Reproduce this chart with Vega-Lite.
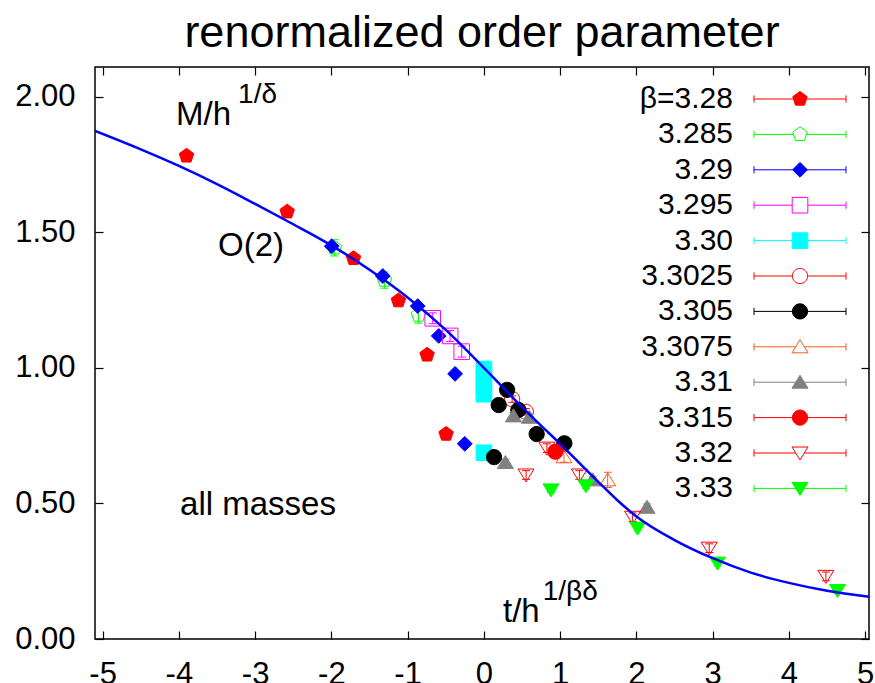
{
  "$schema": "https://vega.github.io/schema/vega-lite/v6.json",
  "width": 774,
  "height": 572,
  "autosize": {"type": "none"},
  "padding": {"left": 95, "top": 67, "right": 6, "bottom": 44},
  "background": "white",
  "title": {
    "text": "renormalized order parameter",
    "font": "Liberation Sans",
    "fontSize": 45,
    "fontWeight": "normal",
    "color": "black",
    "anchor": "middle",
    "baseline": "alphabetic",
    "offset": -26
  },
  "datasets": {
    "points": [
      {"s": "β=3.28", "x": -3.90, "y": 1.782, "lo": 1.774, "hi": 1.790},
      {"s": "β=3.28", "x": -2.58, "y": 1.576, "lo": 1.568, "hi": 1.584},
      {"s": "β=3.28", "x": -1.71, "y": 1.404, "lo": 1.396, "hi": 1.412},
      {"s": "β=3.28", "x": -1.121, "y": 1.248, "lo": 1.240, "hi": 1.256},
      {"s": "β=3.28", "x": -0.745, "y": 1.048, "lo": 1.040, "hi": 1.056},
      {"s": "β=3.28", "x": -0.496, "y": 0.756, "lo": 0.748, "hi": 0.764},
      {"s": "3.285", "x": -1.96, "y": 1.443, "lo": 1.413, "hi": 1.473},
      {"s": "3.285", "x": -1.304, "y": 1.324, "lo": 1.294, "hi": 1.354},
      {"s": "3.285", "x": -0.858, "y": 1.195, "lo": 1.165, "hi": 1.225},
      {"s": "3.29", "x": -1.995, "y": 1.449, "lo": 1.443, "hi": 1.455},
      {"s": "3.29", "x": -1.326, "y": 1.339, "lo": 1.333, "hi": 1.345},
      {"s": "3.29", "x": -0.868, "y": 1.228, "lo": 1.222, "hi": 1.234},
      {"s": "3.29", "x": -0.592, "y": 1.118, "lo": 1.112, "hi": 1.124},
      {"s": "3.29", "x": -0.378, "y": 0.978, "lo": 0.972, "hi": 0.984},
      {"s": "3.29", "x": -0.251, "y": 0.720, "lo": 0.714, "hi": 0.726},
      {"s": "3.295", "x": -0.671, "y": 1.183, "lo": 1.163, "hi": 1.203},
      {"s": "3.295", "x": -0.443, "y": 1.118, "lo": 1.098, "hi": 1.138},
      {"s": "3.295", "x": -0.291, "y": 1.060, "lo": 1.040, "hi": 1.080},
      {"s": "3.30", "x": 0, "y": 0.996, "lo": 0.988, "hi": 1.004},
      {"s": "3.30", "x": 0, "y": 0.965, "lo": 0.957, "hi": 0.973},
      {"s": "3.30", "x": 0, "y": 0.934, "lo": 0.926, "hi": 0.942},
      {"s": "3.30", "x": 0, "y": 0.903, "lo": 0.895, "hi": 0.911},
      {"s": "3.30", "x": 0, "y": 0.687, "lo": 0.679, "hi": 0.695},
      {"s": "3.3025", "x": 0.37, "y": 0.885, "lo": 0.873, "hi": 0.897},
      {"s": "3.3025", "x": 0.55, "y": 0.838, "lo": 0.826, "hi": 0.850},
      {"s": "3.305", "x": 0.304, "y": 0.919, "lo": 0.911, "hi": 0.927},
      {"s": "3.305", "x": 0.194, "y": 0.863, "lo": 0.855, "hi": 0.871},
      {"s": "3.305", "x": 0.452, "y": 0.845, "lo": 0.837, "hi": 0.853},
      {"s": "3.305", "x": 0.692, "y": 0.756, "lo": 0.748, "hi": 0.764},
      {"s": "3.305", "x": 1.055, "y": 0.722, "lo": 0.714, "hi": 0.730},
      {"s": "3.305", "x": 0.133, "y": 0.671, "lo": 0.663, "hi": 0.679},
      {"s": "3.3075", "x": 1.05, "y": 0.672, "lo": 0.652, "hi": 0.692},
      {"s": "3.3075", "x": 1.623, "y": 0.587, "lo": 0.559, "hi": 0.615},
      {"s": "3.31", "x": 0.387, "y": 0.823, "lo": 0.811, "hi": 0.835},
      {"s": "3.31", "x": 0.596, "y": 0.818, "lo": 0.806, "hi": 0.830},
      {"s": "3.31", "x": 0.282, "y": 0.651, "lo": 0.639, "hi": 0.663},
      {"s": "3.31", "x": 1.426, "y": 0.587, "lo": 0.575, "hi": 0.599},
      {"s": "3.31", "x": 2.139, "y": 0.486, "lo": 0.474, "hi": 0.498},
      {"s": "3.315", "x": 0.937, "y": 0.691, "lo": 0.683, "hi": 0.699},
      {"s": "3.32", "x": 0.826, "y": 0.704, "lo": 0.688, "hi": 0.720},
      {"s": "3.32", "x": 0.553, "y": 0.605, "lo": 0.589, "hi": 0.621},
      {"s": "3.32", "x": 1.252, "y": 0.605, "lo": 0.589, "hi": 0.621},
      {"s": "3.32", "x": 1.95, "y": 0.449, "lo": 0.433, "hi": 0.465},
      {"s": "3.32", "x": 2.955, "y": 0.335, "lo": 0.319, "hi": 0.351},
      {"s": "3.32", "x": 4.485, "y": 0.231, "lo": 0.215, "hi": 0.247},
      {"s": "3.33", "x": 0.88, "y": 0.550, "lo": 0.540, "hi": 0.560},
      {"s": "3.33", "x": 1.339, "y": 0.565, "lo": 0.555, "hi": 0.575},
      {"s": "3.33", "x": 2.016, "y": 0.409, "lo": 0.399, "hi": 0.419},
      {"s": "3.33", "x": 3.064, "y": 0.280, "lo": 0.270, "hi": 0.290},
      {"s": "3.33", "x": 4.637, "y": 0.179, "lo": 0.169, "hi": 0.189}
    ],
    "o2curve": [
      {"x": -5.1, "y": 1.874},
      {"x": -4.5, "y": 1.806},
      {"x": -4.0, "y": 1.745},
      {"x": -3.5, "y": 1.678},
      {"x": -3.0, "y": 1.605},
      {"x": -2.5, "y": 1.530},
      {"x": -2.0, "y": 1.452},
      {"x": -1.5, "y": 1.362},
      {"x": -1.0, "y": 1.260},
      {"x": -0.5, "y": 1.140},
      {"x": 0.0, "y": 1.000},
      {"x": 0.25, "y": 0.928},
      {"x": 0.5, "y": 0.855},
      {"x": 0.75, "y": 0.787},
      {"x": 1.0, "y": 0.720},
      {"x": 1.25, "y": 0.650},
      {"x": 1.5, "y": 0.580},
      {"x": 1.75, "y": 0.512},
      {"x": 2.0, "y": 0.452},
      {"x": 2.5, "y": 0.365},
      {"x": 3.0, "y": 0.298},
      {"x": 3.5, "y": 0.245},
      {"x": 4.0, "y": 0.207},
      {"x": 4.5, "y": 0.178},
      {"x": 5.05, "y": 0.156}
    ],
    "notes": [
      {"t": "M/h", "x": -4.037, "y": 1.896},
      {"t": "O(2)", "x": -3.487, "y": 1.413},
      {"t": "all masses", "x": -3.985, "y": 0.457},
      {"t": "t/h", "x": 0.25, "y": 0.064}
    ],
    "sups": [
      {"t": "1/δ", "x": -3.224, "y": 1.976},
      {"t": "1/βδ", "x": 0.771, "y": 0.144}
    ]
  },
  "layer": [
    {
      "data": {"name": "points"},
      "mark": {"type": "rule", "strokeWidth": 1, "opacity": 1},
      "encoding": {
        "x": {"field": "x", "type": "quantitative", "axis": null},
        "y": {"field": "lo", "type": "quantitative", "axis": null},
        "y2": {"field": "hi"},
        "color": {
          "field": "s", "type": "nominal", "legend": null,
          "scale": {
            "domain": ["β=3.28", "3.285", "3.29", "3.295", "3.30", "3.3025", "3.305", "3.3075", "3.31", "3.315", "3.32", "3.33"],
            "range": ["#ff0000", "#00ff00", "#0000ff", "#ff00ff", "#00ffff", "#ff0000", "#000000", "#ff5a1e", "#808080", "#ff0000", "#ff0000", "#00ff00"]
          }
        }
      }
    },
    {
      "data": {"name": "points"},
      "mark": {"type": "tick", "orient": "horizontal", "size": 8, "thickness": 1, "opacity": 1},
      "encoding": {
        "x": {"field": "x", "type": "quantitative", "axis": null},
        "y": {"field": "lo", "type": "quantitative", "axis": null},
        "color": {"field": "s", "type": "nominal", "legend": null}
      }
    },
    {
      "data": {"name": "points"},
      "mark": {"type": "tick", "orient": "horizontal", "size": 8, "thickness": 1, "opacity": 1},
      "encoding": {
        "x": {"field": "x", "type": "quantitative", "axis": null},
        "y": {"field": "hi", "type": "quantitative", "axis": null},
        "color": {"field": "s", "type": "nominal", "legend": null}
      }
    },
    {
      "data": {"name": "points"},
      "mark": {"type": "point", "size": 64, "strokeWidth": 1, "opacity": 1},
      "encoding": {
        "x": {
          "field": "x", "type": "quantitative",
          "scale": {"domain": [-5.1, 5.05], "nice": false, "zero": false},
          "axis": {
            "orient": "bottom", "title": null,
            "values": [-5, -4, -3, -2, -1, 0, 1, 2, 3, 4, 5],
            "labelExpr": "datum.value < 0 ? '-' + abs(datum.value) : '' + datum.value",
            "labelPadding": 28, "labelFlush": false, "labelOverlap": false
          }
        },
        "y": {
          "field": "y", "type": "quantitative",
          "scale": {"domain": [0, 2.11], "nice": false, "zero": false},
          "axis": {
            "orient": "left", "title": null,
            "values": [0, 0.5, 1, 1.5, 2],
            "format": ".2f",
            "labelPadding": 28, "labelOverlap": false
          }
        },
        "shape": {
          "field": "s", "type": "nominal", "legend": null,
          "scale": {
            "domain": ["β=3.28", "3.285", "3.29", "3.295", "3.30", "3.3025", "3.305", "3.3075", "3.31", "3.315", "3.32", "3.33"],
            "range": [
              "M0 -1.9 L1.807 -0.587 L1.117 1.537 L-1.117 1.537 L-1.807 -0.587 Z",
              "M0 -1.9 L1.807 -0.587 L1.117 1.537 L-1.117 1.537 L-1.807 -0.587 Z",
              "M0 -1.85 L1.85 0 L0 1.85 L-1.85 0 Z",
              "M-1.95 -1.95 L1.95 -1.95 L1.95 1.95 L-1.95 1.95 Z",
              "M-1.95 -1.95 L1.95 -1.95 L1.95 1.95 L-1.95 1.95 Z",
              "M-1.9 0 A1.9 1.9 0 1 0 1.9 0 A1.9 1.9 0 1 0 -1.9 0 Z",
              "M-1.9 0 A1.9 1.9 0 1 0 1.9 0 A1.9 1.9 0 1 0 -1.9 0 Z",
              "M0 -1.75 L2 1.5 L-2 1.5 Z",
              "M0 -1.75 L2 1.5 L-2 1.5 Z",
              "M-1.9 0 A1.9 1.9 0 1 0 1.9 0 A1.9 1.9 0 1 0 -1.9 0 Z",
              "M0 1.75 L2 -1.5 L-2 -1.5 Z",
              "M0 1.75 L2 -1.5 L-2 -1.5 Z"
            ]
          }
        },
        "fill": {
          "field": "s", "type": "nominal", "legend": null,
          "scale": {
            "domain": ["β=3.28", "3.285", "3.29", "3.295", "3.30", "3.3025", "3.305", "3.3075", "3.31", "3.315", "3.32", "3.33"],
            "range": ["#ff0000", "transparent", "#0000ff", "transparent", "#00ffff", "transparent", "#000000", "transparent", "#808080", "#ff0000", "transparent", "#00ff00"]
          }
        },
        "stroke": {
          "field": "s", "type": "nominal", "legend": null,
          "scale": {
            "domain": ["β=3.28", "3.285", "3.29", "3.295", "3.30", "3.3025", "3.305", "3.3075", "3.31", "3.315", "3.32", "3.33"],
            "range": ["#ff0000", "#00ff00", "#0000ff", "#ff00ff", "#00ffff", "#ff0000", "#000000", "#ff5a1e", "#808080", "#ff0000", "#ff0000", "#00ff00"]
          }
        }
      }
    },
    {
      "mark": {"type": "rule", "color": "black", "strokeWidth": 1.2},
      "encoding": {
        "x": {
          "datum": 0, "type": "quantitative",
          "axis": {"orient": "top", "title": null, "labels": false, "values": [-5, -4, -3, -2, -1, 0, 1, 2, 3, 4, 5]}
        }
      }
    },
    {
      "mark": {"type": "rule", "color": "black", "strokeWidth": 1.2},
      "encoding": {
        "y": {
          "datum": 1, "type": "quantitative",
          "axis": {"orient": "right", "title": null, "labels": false, "values": [0, 0.5, 1, 1.5, 2]}
        }
      }
    },
    {
      "data": {"name": "o2curve"},
      "mark": {"type": "line", "color": "#0000ff", "strokeWidth": 2.5, "interpolate": "monotone", "clip": true},
      "encoding": {
        "x": {"field": "x", "type": "quantitative", "axis": null},
        "y": {"field": "y", "type": "quantitative", "axis": null}
      }
    },
    {
      "data": {"name": "notes"},
      "mark": {"type": "text", "font": "Liberation Sans", "fontSize": 33, "align": "left", "baseline": "alphabetic", "color": "black"},
      "encoding": {
        "x": {"field": "x", "type": "quantitative", "axis": null},
        "y": {"field": "y", "type": "quantitative", "axis": null},
        "text": {"field": "t"}
      }
    },
    {
      "data": {"name": "sups"},
      "mark": {"type": "text", "font": "Liberation Sans", "fontSize": 28, "align": "left", "baseline": "alphabetic", "color": "black"},
      "encoding": {
        "x": {"field": "x", "type": "quantitative", "axis": null},
        "y": {"field": "y", "type": "quantitative", "axis": null},
        "text": {"field": "t"}
      }
    },
    {
      "data": {"name": "points"},
      "mark": {"type": "point", "size": 0, "strokeWidth": 1},
      "encoding": {
        "x": {"field": "x", "type": "quantitative", "axis": null},
        "y": {"field": "y", "type": "quantitative", "axis": null},
        "shape": {
          "field": "s", "type": "nominal",
          "scale": {
            "domain": ["β=3.28", "3.285", "3.29", "3.295", "3.30", "3.3025", "3.305", "3.3075", "3.31", "3.315", "3.32", "3.33"],
            "range": [
              "M-45 0 M-11.5 -0.9 L-11.5 0.9 M-11.5 0 L11.5 0 M11.5 -0.9 L11.5 0.9 M0 -1.9 L1.807 -0.587 L1.117 1.537 L-1.117 1.537 L-1.807 -0.587 Z",
              "M-45 0 M-11.5 -0.9 L-11.5 0.9 M-11.5 0 L-1.62 0 M1.62 0 L11.5 0 M11.5 -0.9 L11.5 0.9 M0 -1.9 L1.807 -0.587 L1.117 1.537 L-1.117 1.537 L-1.807 -0.587 Z",
              "M-45 0 M-11.5 -0.9 L-11.5 0.9 M-11.5 0 L11.5 0 M11.5 -0.9 L11.5 0.9 M0 -1.85 L1.85 0 L0 1.85 L-1.85 0 Z",
              "M-45 0 M-11.5 -0.9 L-11.5 0.9 M-11.5 0 L-1.95 0 M1.95 0 L11.5 0 M11.5 -0.9 L11.5 0.9 M-1.95 -1.95 L1.95 -1.95 L1.95 1.95 L-1.95 1.95 Z",
              "M-45 0 M-11.5 -0.9 L-11.5 0.9 M-11.5 0 L11.5 0 M11.5 -0.9 L11.5 0.9 M-1.95 -1.95 L1.95 -1.95 L1.95 1.95 L-1.95 1.95 Z",
              "M-45 0 M-11.5 -0.9 L-11.5 0.9 M-11.5 0 L-1.9 0 M1.9 0 L11.5 0 M11.5 -0.9 L11.5 0.9 M-1.9 0 A1.9 1.9 0 1 0 1.9 0 A1.9 1.9 0 1 0 -1.9 0 Z",
              "M-45 0 M-11.5 -0.9 L-11.5 0.9 M-11.5 0 L11.5 0 M11.5 -0.9 L11.5 0.9 M-1.9 0 A1.9 1.9 0 1 0 1.9 0 A1.9 1.9 0 1 0 -1.9 0 Z",
              "M-45 0 M-11.5 -0.9 L-11.5 0.9 M-11.5 0 L-1.08 0 M1.08 0 L11.5 0 M11.5 -0.9 L11.5 0.9 M0 -1.75 L2 1.5 L-2 1.5 Z",
              "M-45 0 M-11.5 -0.9 L-11.5 0.9 M-11.5 0 L11.5 0 M11.5 -0.9 L11.5 0.9 M0 -1.75 L2 1.5 L-2 1.5 Z",
              "M-45 0 M-11.5 -0.9 L-11.5 0.9 M-11.5 0 L11.5 0 M11.5 -0.9 L11.5 0.9 M-1.9 0 A1.9 1.9 0 1 0 1.9 0 A1.9 1.9 0 1 0 -1.9 0 Z",
              "M-45 0 M-11.5 -0.9 L-11.5 0.9 M-11.5 0 L-1.08 0 M1.08 0 L11.5 0 M11.5 -0.9 L11.5 0.9 M0 1.75 L2 -1.5 L-2 -1.5 Z",
              "M-45 0 M-11.5 -0.9 L-11.5 0.9 M-11.5 0 L11.5 0 M11.5 -0.9 L11.5 0.9 M0 1.75 L2 -1.5 L-2 -1.5 Z"
            ]
          },
          "legend": {
            "title": null, "orient": "none", "legendX": 690, "legendY": 17, "padding": 0,
            "labelAlign": "right", "labelOffset": -82, "labelFont": "Liberation Sans", "labelFontSize": 30,
            "labelColor": "black", "labelLimit": 400, "symbolSize": 64, "symbolStrokeWidth": 1,
            "symbolOpacity": 1, "rowPadding": 5.4
          }
        },
        "fill": {
          "field": "s", "type": "nominal",
          "scale": {
            "domain": ["β=3.28", "3.285", "3.29", "3.295", "3.30", "3.3025", "3.305", "3.3075", "3.31", "3.315", "3.32", "3.33"],
            "range": ["#ff0000", "transparent", "#0000ff", "transparent", "#00ffff", "transparent", "#000000", "transparent", "#808080", "#ff0000", "transparent", "#00ff00"]
          },
          "legend": {
            "title": null, "orient": "none", "legendX": 690, "legendY": 17, "padding": 0,
            "labelAlign": "right", "labelOffset": -82, "labelFont": "Liberation Sans", "labelFontSize": 30,
            "labelColor": "black", "labelLimit": 400, "symbolSize": 64, "symbolStrokeWidth": 1,
            "symbolOpacity": 1, "rowPadding": 5.4
          }
        },
        "stroke": {
          "field": "s", "type": "nominal",
          "scale": {
            "domain": ["β=3.28", "3.285", "3.29", "3.295", "3.30", "3.3025", "3.305", "3.3075", "3.31", "3.315", "3.32", "3.33"],
            "range": ["#ff0000", "#00ff00", "#0000ff", "#ff00ff", "#00ffff", "#ff0000", "#000000", "#ff5a1e", "#808080", "#ff0000", "#ff0000", "#00ff00"]
          },
          "legend": {
            "title": null, "orient": "none", "legendX": 690, "legendY": 17, "padding": 0,
            "labelAlign": "right", "labelOffset": -82, "labelFont": "Liberation Sans", "labelFontSize": 30,
            "labelColor": "black", "labelLimit": 400, "symbolSize": 64, "symbolStrokeWidth": 1,
            "symbolOpacity": 1, "rowPadding": 5.4
          }
        }
      }
    }
  ],
  "resolve": {"scale": {"shape": "independent", "fill": "independent", "stroke": "independent"}},
  "config": {
    "font": "Liberation Sans",
    "view": {"stroke": "black", "strokeWidth": 1.5},
    "axis": {
      "domain": false,
      "grid": false,
      "labelFont": "Liberation Sans",
      "labelFontSize": 31,
      "labelColor": "black",
      "tickColor": "black",
      "tickWidth": 1.2,
      "tickSize": -8
    }
  }
}
